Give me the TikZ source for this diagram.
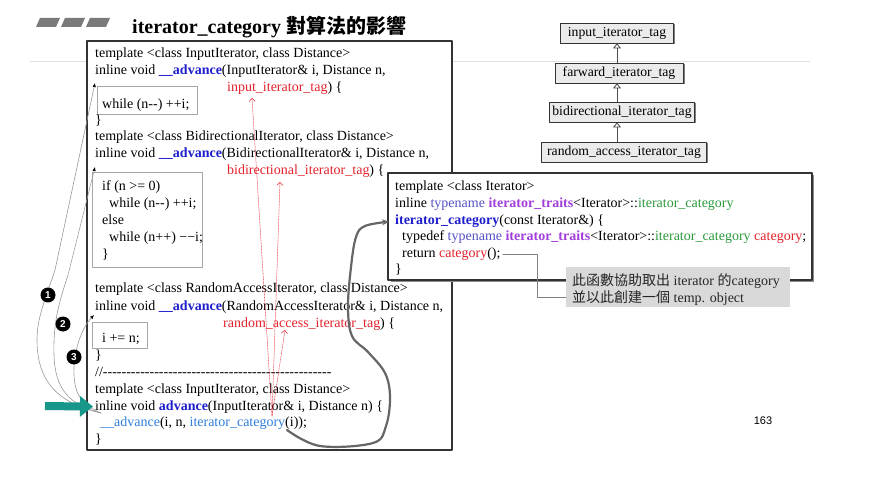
\documentclass[tikz,border=0pt]{standalone}
\usepackage{fontspec}
\setmainfont{Liberation Serif}
\newfontfamily\codefont{Liberation Serif}
\newfontfamily\cjk{Noto Sans CJK TC}
\newfontfamily\pagefont{Liberation Sans}
\usepackage{tikz}
\usetikzlibrary{arrows.meta,shadows}
\definecolor{advblue}{HTML}{1E1ECC}
\definecolor{callblue}{HTML}{2F7FDC}
\definecolor{tagred}{HTML}{E3222C}
\definecolor{typeblue}{HTML}{5552C4}
\definecolor{traitpurple}{HTML}{A23FDA}
\definecolor{catgreen}{HTML}{2C9A3E}
\definecolor{arrowteal}{HTML}{17978A}
\definecolor{bargray}{HTML}{7A7A7A}
\definecolor{notegray}{HTML}{D9D9D9}
\newcommand{\advfn}[1]{{\bfseries\color{advblue}#1}}
\newcommand{\tagtx}[1]{{\color{tagred}#1}}
\newcommand{\callfn}[1]{{\color{callblue}#1}}
\newcommand{\tyname}[1]{{\color{typeblue}#1}}
\newcommand{\traitfn}[1]{{\bfseries\color{traitpurple}#1}}
\newcommand{\catname}[1]{{\color{catgreen}#1}}
\begin{document}
\begin{tikzpicture}[x=1pt,y=-1pt,line cap=round,line join=round,
  code/.style={anchor=base west,inner sep=0pt,font=\codefont\fontsize{14}{17}\selectfont},
  frame/.style={draw=black!80,line width=1.5pt},
  inbox/.style={draw=black!35,line width=1pt},
  tagbox/.style={draw=black!80,fill=black!8,line width=0.8pt,inner xsep=2pt,inner ysep=0pt,minimum height=20pt,
    font=\codefont\fontsize{13.7}{16}\selectfont,drop shadow={shadow xshift=1.5pt,shadow yshift=-1.5pt,fill=black!50,opacity=1}},
  isa/.style={draw=black!70,line width=0.8pt,-{Triangle[open,length=5pt,width=8pt]}},
  backline/.style={draw=black!40,line width=0.6pt,-{Latex[length=4pt,width=3.5pt,color=black]}},
  stepmark/.style={circle,fill=black,text=white,inner sep=0pt,minimum size=15pt,font=\pagefont\bfseries\fontsize{10}{10}\selectfont},
  pointer/.style={draw=arrowteal,line width=8pt,line cap=butt,-{Triangle[length=13pt,width=20pt]}},
  redarr/.style={draw=tagred,line width=0.5pt,densely dotted,-{Straight Barb[length=3pt,width=6pt]}},
  flow/.style={draw=black!60,line width=2.2pt,-{Stealth[length=7pt,width=6pt]}},
  leader/.style={draw=black!50,line width=0.5pt},
  notebox/.style={fill=notegray,inner sep=0pt},
  notetext/.style={anchor=base west,inner sep=0pt,text=black!85,font=\codefont\fontsize{14}{17}\selectfont}]
    \useasboundingbox (0,0) rectangle (886,494);
    \fill [white] (0,0) rectangle (886,494);
    % header
    \fill [bargray] (36,27) -- (40,18) -- (60,18) -- (56,27) -- cycle;
    \fill [bargray] (61,27) -- (65,18) -- (85,18) -- (81,27) -- cycle;
    \fill [bargray] (86,27) -- (90,18) -- (110,18) -- (106,27) -- cycle;
    \node [anchor=base west,inner sep=0pt,font=\fontsize{20}{24}\selectfont\bfseries] (title) at (132,34) {iterator\_category {\cjk 對算法的影響}};
    \draw [black!12,line width=0.6pt] (30,61) -- (810,61);
    % left code frame
    \draw [frame,fill=white] (87,41) rectangle (452,450);
    \draw [inbox] (97,87) rectangle (197,115);
    \draw [inbox] (92,173) rectangle (202,268);
    \draw [inbox] (92,322) rectangle (147,348);
    \node [code] (l1) at (95,58) {template <class InputIterator, class Distance>};
    \node [code] (l2) at (95,75) {inline void \advfn{\_\_advance}(InputIterator\& i, Distance n,};
    \node [code] (tagin) at (227,92) {\tagtx{input\_iterator\_tag}) \{};
    \node [code] (b1) at (102,109) {while (n--) ++i;};
    \node [code] (l4) at (95,125) {\}};
    \node [code] (l5) at (95,141) {template <class BidirectionalIterator, class Distance>};
    \node [code] (l6) at (95,158) {inline void \advfn{\_\_advance}(BidirectionalIterator\& i, Distance n,};
    \node [code] (tagbi) at (227,175) {\tagtx{bidirectional\_iterator\_tag}) \{};
    \node [code] (b2a) at (102,191) {if (n >= 0)};
    \node [code] (b2b) at (109,208) {while (n--) ++i;};
    \node [code] (b2c) at (102,225) {else};
    \node [code] (b2d) at (109,242) {while (n++) −−i;};
    \node [code] (b2e) at (102,259) {\}};
    \node [code] (l8) at (95,293) {template <class RandomAccessIterator, class Distance>};
    \node [code] (l9) at (95,310) {inline void \advfn{\_\_advance}(RandomAccessIterator\& i, Distance n,};
    \node [code] (tagra) at (223,327) {\tagtx{random\_access\_iterator\_tag}) \{};
    \node [code] (b3) at (102,342) {i += n;};
    \node [code] (l11) at (95,359) {\}};
    \node [code] (l12) at (95,376) {//-------------------------------------------------};
    \node [code] (l13) at (95,393) {template <class InputIterator, class Distance>};
    \node [code] (l14) at (95,410) {inline void \advfn{advance}(InputIterator\& i, Distance n) \{};
    \node [code] (l15) at (100,426) {\callfn{\_\_advance}(i, n, \callfn{iterator\_category}(i));};
    \node [code] (l16) at (95,443) {\}};
    % dispatch to the three versions
    \coordinate (fork) at (101,413);
    \coordinate (tip1) at (95,83);
    \coordinate (tip2) at (95,167);
    \coordinate (tip3) at (94,315);
    \draw [backline] (fork) .. controls (62,404) and (37,385) .. (37,340) .. controls (37,318) and (45,300) .. (55,270) -- (tip1);
    \draw [backline] (fork) .. controls (70,405) and (55,390) .. (54,355) .. controls (53,320) and (60,300) .. (68,275) -- (tip2);
    \draw [backline] (fork) .. controls (82,405) and (75,395) .. (74,375) .. controls (73,355) and (80,330) .. (tip3);
    \node [stepmark] (m1) at (48,295) {1};
    \node [stepmark] (m2) at (63,324) {2};
    \node [stepmark] (m3) at (74,357) {3};
    \coordinate (tealstart) at (45,406);
    \draw [pointer] (tealstart) -- ([xshift=-2pt]l14.west);
    % tag arrows
    \coordinate (catpt) at (272,416);
    \coordinate (inhead) at (252,98);
    \coordinate (bihead) at (280,182);
    \coordinate (rahead) at (285,330);
    \draw [redarr] (catpt) -- (inhead);
    \draw [redarr] (catpt) -- (bihead);
    \draw [redarr] (catpt) -- (rahead);
    % tag hierarchy
    \node [tagbox,minimum width=113pt] (t1) at (617,33) {input\_iterator\_tag};
    \node [tagbox,minimum width=128pt] (t2) at (619,73) {farward\_iterator\_tag};
    \node [tagbox,minimum width=145pt] (t3) at (622,112) {bidirectional\_iterator\_tag};
    \node [tagbox,minimum width=165pt] (t4) at (624,152) {random\_access\_iterator\_tag};
    \draw [isa] (t1.south |- t2.north) -- (t1.south);
    \draw [isa] (t1.south |- t3.north) -- (t1.south |- t2.south);
    \draw [isa] (t1.south |- t4.north) -- (t1.south |- t3.south);
    % iterator_category()
    \fill [black!45] (390.5,175.5) rectangle (814,282.5);
    \draw [frame,fill=white] (388,173) rectangle (812,280);
    \node [code] (r1) at (395,191) {template <class Iterator>};
    \node [code] (r2) at (395,208) {inline \tyname{typename} \traitfn{iterator\_traits}<Iterator>::\catname{iterator\_category}};
    \node [code] (r3) at (395,225) {\advfn{iterator\_category}(const Iterator\&) \{};
    \node [code] (r4) at (402,241) {typedef \tyname{typename} \traitfn{iterator\_traits}<Iterator>::\catname{iterator\_category} \tagtx{category};};
    \node [code] (r5) at (402,258) {return \tagtx{category}();};
    \node [code] (r6) at (395,274) {\}};
    \node [notebox,minimum width=224pt,minimum height=40pt,anchor=north west] (note) at (566,267) {};
    \node [notetext] (n1) at (572,286) {{\cjk 此函數協助取出} iterator {\cjk 的}category};
    \node [notetext] (n2) at (572,302) {{\cjk 並以此創建一個} temp. object};
    \draw [leader] ([xshift=2pt]r5.east) -- ++(35,0) |- (n2.west -| note.west);
    % call into iterator_category
    \coordinate (catout) at (287,430);
    \coordinate (catin) at ([xshift=-6pt]r3.west);
    \draw [flow] plot [smooth,tension=0.6] coordinates {(catout) (320,446) (373,443) (386,426) (390,397) (385,373) (368,352) (352,336) (348,307) (351,267) (356,237) (365,226) (catin)};
    \node [font=\pagefont\fontsize{11}{13}\selectfont] (pageno) at (763,421) {163};
\end{tikzpicture}
\end{document}
